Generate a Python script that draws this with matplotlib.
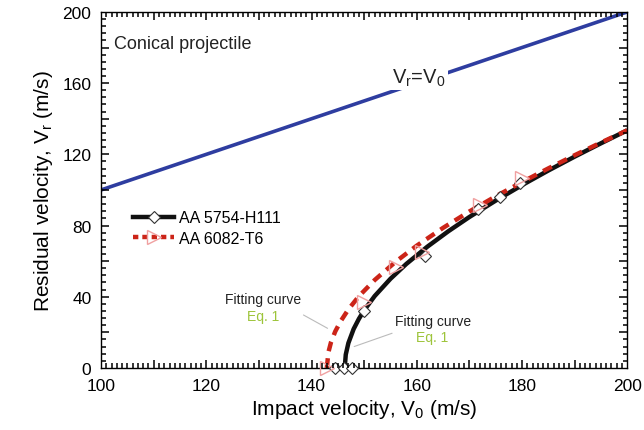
import matplotlib
matplotlib.use("Agg")
import matplotlib.pyplot as plt
from matplotlib.ticker import MultipleLocator

plt.rcParams['font.family'] = ['Liberation Sans', 'DejaVu Sans']
plt.rcParams['mathtext.fontset'] = 'custom'
plt.rcParams['mathtext.rm'] = 'Liberation Sans'

# reference line Vr = V0
ref_v0 = [100, 200]
ref_vr = [100, 200]

# experimental points
aa5754_v0 = [144.5, 146.1, 147.7, 150.0, 161.6, 171.7, 175.8, 179.6]
aa5754_vr = [0, 0, 0, 32.0, 62.9, 89.3, 95.9, 103.8]
aa6082_v0 = [142.9, 150.0, 156.0, 161.0, 172.0, 180.0]
aa6082_vr = [0, 37.0, 56.6, 65.0, 91.5, 106.5]

# fitting curves (Eq. 1)
fit5754_v0 = [146.3, 146.5, 147, 148, 149, 150, 152, 155, 158, 162,
              166, 170, 175, 180, 185, 190, 195, 200]
fit5754_vr = [0, 7.5, 14.0, 21.9, 27.6, 32.4, 40.4, 50.1, 58.4, 68.1,
              76.8, 84.8, 94.0, 102.7, 110.9, 118.7, 126.2, 133.5]
fit6082_v0 = [142.9, 143.2, 143.7, 144.5, 145.5, 147, 149, 152, 156, 160,
              165, 170, 175, 180, 185, 190, 195, 200]
fit6082_vr = [0, 8.8, 14.5, 20.5, 26.1, 32.9, 40.3, 49.4, 59.7, 68.7,
              78.7, 87.9, 96.4, 104.4, 112.1, 119.5, 126.6, 133.5]

fig = plt.figure(figsize=(6.44, 4.31), dpi=100)
ax = fig.add_axes([0.157, 0.144, 0.817, 0.826])

ax.plot(ref_v0, ref_vr, color='#2e3da0', lw=2.6)
ax.plot(fit5754_v0, fit5754_vr, color='#111111', lw=3.2, solid_capstyle='butt')
ax.plot(fit6082_v0, fit6082_vr, color='#cc2418', lw=3.2, ls=(0, (2.2, 1.6)))

ax.plot(aa5754_v0, aa5754_vr, ls='none', marker='D', ms=6.5, mfc='white',
        mec='#333333', mew=0.8, clip_on=False, zorder=4)
ax.plot(aa6082_v0, aa6082_vr, ls='none', marker='>', ms=10, mfc='none',
        mec='#f0a0a0', mew=1.0, clip_on=False, zorder=4)

# legend from proxy handles
h1, = ax.plot([], [], color='#111111', lw=3.2, marker='D', ms=6.5, mfc='white',
              mec='#333333', mew=0.8)
h2, = ax.plot([], [], color='#cc2418', lw=3.2, ls=(0, (1.2, 0.9)), marker='>',
              ms=10, mfc='none', mec='#f0a0a0', mew=1.0)
ax.legend([h1, h2], ['AA 5754-H111', 'AA 6082-T6'], loc='upper left',
          bbox_to_anchor=(0.045, 0.465), frameon=False, fontsize=11.5,
          handlelength=2.6, handletextpad=0.3, labelspacing=0.35, borderpad=0)

ax.text(0.025, 0.912, 'Conical projectile', transform=ax.transAxes, fontsize=13,
        va='center', ha='left', color='#222222')
ax.text(160.3, 163.5, r'V$_\mathregular{r}$=V$_\mathregular{0}$', fontsize=14.5,
        ha='center', va='center', color='#222222',
        bbox=dict(facecolor='white', edgecolor='none', pad=2))

# annotations
ax.annotate('', xy=(143.5, 21.5), xytext=(138, 30.5),
            arrowprops=dict(arrowstyle='-', color='#bbbbbb', lw=0.8))
ax.text(130.8, 38.8, 'Fitting curve', fontsize=10, ha='center', va='center', color='#222222')
ax.text(130.8, 29.2, 'Eq. 1', fontsize=10, ha='center', va='center', color='#9dc43a')
ax.annotate('', xy=(147.6, 11.5), xytext=(155.8, 20),
            arrowprops=dict(arrowstyle='-', color='#bbbbbb', lw=0.8))
ax.text(163.1, 26.6, 'Fitting curve', fontsize=10, ha='center', va='center', color='#222222')
ax.text(163.0, 17.4, 'Eq. 1', fontsize=10, ha='center', va='center', color='#9dc43a')

ax.set_xlim(100, 200)
ax.set_ylim(0, 200)
ax.xaxis.set_major_locator(MultipleLocator(20))
ax.yaxis.set_major_locator(MultipleLocator(40))
ax.tick_params(which='both', direction='in', length=0, labelsize=12.5, pad=7)
for s in ax.spines.values():
    s.set_linewidth(1.0)

# inward ticks on all four sides: long every 10 / 20, short every 1 / 4
bw = ax.get_position().width * fig.get_figwidth() * 72
bh = ax.get_position().height * fig.get_figheight() * 72
maj_len, min_len = 6.0, 3.4   # points
ky = 200.0 / bh   # data units per point, vertical
kx = 100.0 / bw   # data units per point, horizontal
xt = list(range(101, 200))
xlen = [(maj_len if v % 10 == 0 else min_len) * ky for v in xt]
ax.vlines(xt, 0, xlen, colors='black', linewidth=1.1, zorder=6)
ax.vlines(xt, [200 - L for L in xlen], 200, colors='black', linewidth=1.1, zorder=6)
yt = list(range(4, 200, 4))
ylen = [(maj_len if v % 20 == 0 else min_len) * kx for v in yt]
ax.hlines(yt, 100, [100 + L for L in ylen], colors='black', linewidth=1.1, zorder=6)
ax.hlines(yt, [200 - L for L in ylen], 200, colors='black', linewidth=1.1, zorder=6)
ax.set_xlim(100, 200)
ax.set_ylim(0, 200)

ax.set_xlabel(r'Impact velocity, V$_\mathregular{0}$ (m/s)', fontsize=15, labelpad=3)
ax.set_ylabel(r'Residual velocity, V$_\mathregular{r}$ (m/s)', fontsize=15, labelpad=5)

fig.savefig('out.png', dpi=100)
